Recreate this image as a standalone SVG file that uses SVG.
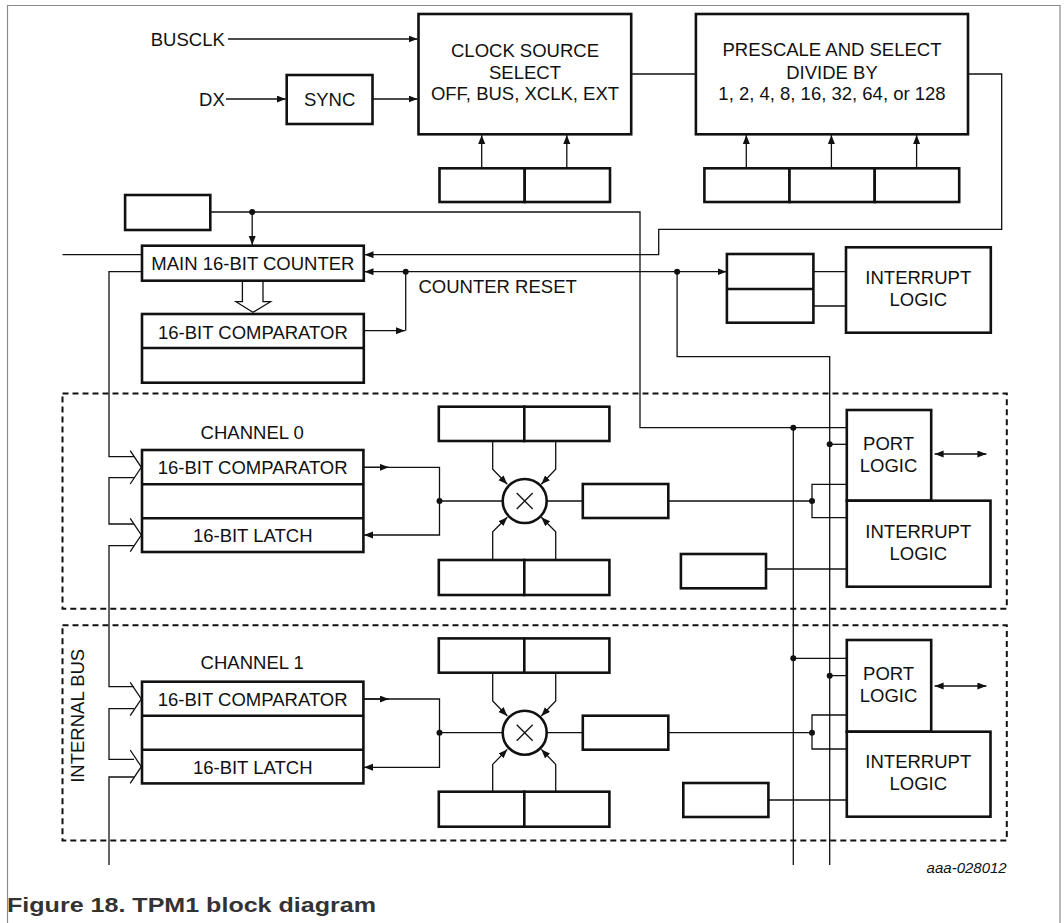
<svg xmlns="http://www.w3.org/2000/svg" width="1064" height="923" viewBox="0 0 1064 923">
<style>
.box{fill:#fff;stroke:#111;stroke-width:2.6}
.ln{fill:none;stroke:#111;stroke-width:1.3}
.arr{fill:none;stroke:#111;stroke-width:1.3;marker-end:url(#ah)}
.dash{fill:none;stroke:#111;stroke-width:2;stroke-dasharray:6 4}
.t{font-family:"Liberation Sans",Arial,sans-serif;font-size:18.5px;fill:#111}
.c{text-anchor:middle}
.e{text-anchor:end}
.dot{fill:#111}
</style>
<defs>
<marker id="ah" markerUnits="userSpaceOnUse" markerWidth="10" markerHeight="8" refX="9" refY="3.5" orient="auto-start-reverse">
<path d="M0,0 L9,3.5 L0,7 z" fill="#111"/>
</marker>
</defs>
<rect width="1064" height="923" fill="#fff"/>
<path d="M7.5,930 V5.5 H1060 V930" fill="none" stroke="#8a8a8a" stroke-width="1.2"/>

<g id="connectors">
<path class="arr" d="M228,39 H417.5"/>
<path class="arr" d="M226,99 H285.7"/>
<path class="arr" d="M372.5,99 H417.5"/>
<path class="ln" d="M631.2,74 H695.9"/>
<path class="arr" d="M481.7,168.3 V135"/>
<path class="arr" d="M566.8,168.3 V135"/>
<path class="arr" d="M746.3,168.3 V135"/>
<path class="arr" d="M831.4,168.3 V135"/>
<path class="arr" d="M916.6,168.3 V135"/>
<path class="arr" d="M968,74 H1001.7 V229.3 H658.7 V254.7 H364.5"/>
<path class="ln" d="M210.3,212 H640 V427.7 H846.8"/>
<path class="arr" d="M252.2,212 V245"/>
<path class="ln" d="M62.5,254.7 H142"/>
<path class="ln" d="M142,271.7 H109 V456.7 H134"/>
<path class="arr" d="M405.7,271.7 H364.5"/>
<path class="arr" d="M405.7,271.7 H726.5"/>
<path class="arr" d="M363.8,330.7 H405"/>
<path class="ln" d="M405.7,330.7 V271.7"/>
<path class="ln" d="M677.1,271.7 V356.7 H829.7 V865"/>
<path class="ln" d="M813.4,271.7 H846 M813.4,306 H846"/>
<path class="ln" d="M793.3,427.7 V865"/>
<path class="ln" d="M242.4,280.7 V301.7 H236 L252.9,312.3 L270.5,301.7 H263 V280.7"/>
<!-- channel 0 -->
<path class="ln" d="M829.7,444.3 H846.8"/>
<path class="arr" d="M363.4,467.3 H388.8"/>
<path class="arr" d="M363.4,467.3 H439.5 V535 H364"/>
<path class="ln" d="M439.5,501 H502.7"/>
<path class="arr" d="M492.7,441 V469.3 L507.3,484.3"/>
<path class="arr" d="M555.7,441 V469.3 L541.3,484.3"/>
<path class="arr" d="M492.7,560 V531.7 L507.3,517.3"/>
<path class="arr" d="M555.7,560 V531.7 L541.3,517.3"/>
<path class="ln" d="M546.7,501 H582.8 M668.3,501 H812"/>
<path class="ln" d="M846.8,484.3 H812 V517.7 H846.8"/>
<path class="ln" d="M766,569 H846.8"/>
<path class="arr" style="marker-start:url(#ah)" d="M934.6,454 H986.4"/>
<path class="ln" d="M134,477.7 H109 V524 H134"/>
<path class="ln" d="M134,545.7 H109 V686.7 H134"/>
<polyline class="ln" points="130.2,450.7 141.3,467.3 130.2,484"/>
<polyline class="ln" points="130.2,518.3 141.3,535 130.2,551.7"/>
<!-- channel 1 -->
<path class="ln" d="M793.3,658.3 H846.8 M829.7,675.7 H846.8"/>
<path class="arr" d="M363.4,699 H388.8"/>
<path class="arr" d="M363.4,699 H439.5 V767.3 H364"/>
<path class="ln" d="M439.5,732.7 H502.7"/>
<path class="arr" d="M492.7,672.7 V701 L507.3,716"/>
<path class="arr" d="M555.7,672.7 V701 L541.3,716"/>
<path class="arr" d="M492.7,791.7 V764.4 L507.3,749.4"/>
<path class="arr" d="M555.7,791.7 V764.4 L541.3,749.4"/>
<path class="ln" d="M546.7,732.7 H582.8 M668.3,732.7 H812"/>
<path class="ln" d="M846.8,715 H812 V749 H846.8"/>
<path class="ln" d="M768.4,800 H846.8"/>
<path class="arr" style="marker-start:url(#ah)" d="M934.6,686 H986.4"/>
<path class="ln" d="M134,708.7 H109 V759.3 H134"/>
<path class="ln" d="M134,777 H109 V865"/>
<polyline class="ln" points="130.2,682.3 141.3,699 130.2,715.7"/>
<polyline class="ln" points="130.2,750 141.3,766.7 130.2,783.4"/>
<!-- junction dots -->
<circle class="dot" cx="252.2" cy="212" r="3"/>
<circle class="dot" cx="405.7" cy="271.7" r="3"/>
<circle class="dot" cx="677.1" cy="271.7" r="3"/>
<circle class="dot" cx="793.3" cy="427.7" r="3"/>
<circle class="dot" cx="829.7" cy="444.3" r="3"/>
<circle class="dot" cx="439.5" cy="501" r="3"/>
<circle class="dot" cx="812" cy="501" r="3"/>
<circle class="dot" cx="793.3" cy="658.3" r="3"/>
<circle class="dot" cx="829.7" cy="675.7" r="3"/>
<circle class="dot" cx="439.5" cy="732.7" r="3"/>
<circle class="dot" cx="812" cy="732.7" r="3"/>
</g>

<g id="busclk"><text class="t e" x="224.8" y="45.5">BUSCLK</text></g>
<g id="dx"><text class="t e" x="224.8" y="105.5">DX</text></g>
<g id="sync"><rect class="box" x="286.7" y="75" width="85.8" height="49"/><text class="t c" x="329.6" y="106">SYNC</text></g>
<g id="clock-source">
<rect class="box" x="418.5" y="14" width="212.7" height="120.3"/>
<text class="t c" x="525" y="56.5">CLOCK SOURCE</text>
<text class="t c" x="525" y="78.5">SELECT</text>
<text class="t c" x="525" y="100.3">OFF, BUS, XCLK, EXT</text>
</g>
<g id="clksel-reg"><rect class="box" x="439.5" y="168.3" width="85.2" height="33.7"/><rect class="box" x="524.7" y="168.3" width="85.3" height="33.7"/></g>
<g id="prescale">
<rect class="box" x="695.9" y="14" width="272.1" height="120.3"/>
<text class="t c" x="832" y="56">PRESCALE AND SELECT</text>
<text class="t c" x="832" y="78.5">DIVIDE BY</text>
<text class="t c" x="832" y="100.3">1, 2, 4, 8, 16, 32, 64, or 128</text>
</g>
<g id="ps-reg"><rect class="box" x="704.4" y="168.3" width="85.1" height="33.7"/><rect class="box" x="789.5" y="168.3" width="85.2" height="33.7"/><rect class="box" x="874.7" y="168.3" width="84.5" height="33.7"/></g>
<g id="clr-reg"><rect class="box" x="125.1" y="195" width="85.2" height="35"/></g>
<g id="main-counter"><rect class="box" x="142" y="245.7" width="221.8" height="35"/><text class="t c" x="252.9" y="270">MAIN 16-BIT COUNTER</text></g>
<g id="modulo-comparator"><rect class="box" x="142" y="314" width="221.8" height="68.7"/><line class="box" x1="142" y1="348" x2="363.8" y2="348"/><text class="t c" x="252.9" y="339">16-BIT COMPARATOR</text></g>
<g id="counter-reset"><text class="t" x="418.5" y="293.3">COUNTER RESET</text></g>
<g id="tof-reg"><rect class="box" x="726.9" y="254" width="86.5" height="68.7"/><line class="box" x1="726.9" y1="289" x2="813.4" y2="289"/></g>
<g id="interrupt-logic-top"><rect class="box" x="846" y="247.3" width="144.8" height="85.4"/><text class="t c" x="918.3" y="284">INTERRUPT</text><text class="t c" x="918.3" y="306">LOGIC</text></g>

<g id="channel-0">
<rect class="dash" x="62.5" y="393.5" width="944.3" height="215.2"/>
<text class="t c" x="252.2" y="439">CHANNEL 0</text>
<g id="ch0-comparator-latch">
<rect class="box" x="142" y="450" width="221.4" height="102"/>
<line class="box" x1="142" y1="484.3" x2="363.4" y2="484.3"/>
<line class="box" x1="142" y1="518.3" x2="363.4" y2="518.3"/>
<text class="t c" x="252.7" y="474">16-BIT COMPARATOR</text>
<text class="t c" x="252.7" y="541.7">16-BIT LATCH</text>
</g>
<g id="ch0-reg-up"><rect class="box" x="438.8" y="406.7" width="85.5" height="34.3"/><rect class="box" x="524.3" y="406.7" width="85.1" height="34.3"/></g>
<g id="ch0-reg-down"><rect class="box" x="438.8" y="560" width="85.5" height="35"/><rect class="box" x="524.3" y="560" width="85.1" height="35"/></g>
<g id="ch0-mux"><circle class="box" cx="524.7" cy="501" r="22"/><path class="ln" d="M516.7,493 L532.7,509 M532.7,493 L516.7,509"/></g>
<g id="ch0-mid"><rect class="box" x="582.8" y="484" width="85.5" height="34"/></g>
<g id="ch0-ie"><rect class="box" x="680.9" y="554" width="85.1" height="34.3"/></g>
<g id="ch0-port"><rect class="box" x="846.8" y="410" width="84.4" height="90.7"/><text class="t c" x="888.6" y="450">PORT</text><text class="t c" x="888.6" y="471.7">LOGIC</text></g>
<g id="ch0-int"><rect class="box" x="846.8" y="500.7" width="143.7" height="86"/><text class="t c" x="918.3" y="538.3">INTERRUPT</text><text class="t c" x="918.3" y="560">LOGIC</text></g>
</g>

<g id="channel-1">
<rect class="dash" x="62.5" y="625.2" width="944.3" height="215.2"/>
<text class="t c" x="252.2" y="669.3">CHANNEL 1</text>
<g id="ch1-comparator-latch">
<rect class="box" x="142" y="681.7" width="221.4" height="101.7"/>
<line class="box" x1="142" y1="715.7" x2="363.4" y2="715.7"/>
<line class="box" x1="142" y1="749.7" x2="363.4" y2="749.7"/>
<text class="t c" x="252.7" y="705.7">16-BIT COMPARATOR</text>
<text class="t c" x="252.7" y="774.3">16-BIT LATCH</text>
</g>
<g id="ch1-reg-up"><rect class="box" x="438.8" y="638.4" width="85.5" height="34.3"/><rect class="box" x="524.3" y="638.4" width="85.1" height="34.3"/></g>
<g id="ch1-reg-down"><rect class="box" x="438.8" y="791.7" width="85.5" height="35"/><rect class="box" x="524.3" y="791.7" width="85.1" height="35"/></g>
<g id="ch1-mux"><circle class="box" cx="524.7" cy="732.7" r="22"/><path class="ln" d="M516.7,724.7 L532.7,740.7 M532.7,724.7 L516.7,740.7"/></g>
<g id="ch1-mid"><rect class="box" x="582.8" y="715.7" width="85.5" height="34"/></g>
<g id="ch1-ie"><rect class="box" x="683.3" y="783" width="85.1" height="34"/></g>
<g id="ch1-port"><rect class="box" x="846.8" y="640" width="84.4" height="91.7"/><text class="t c" x="888.6" y="680">PORT</text><text class="t c" x="888.6" y="701.7">LOGIC</text></g>
<g id="ch1-int"><rect class="box" x="846.8" y="731.7" width="143.7" height="85"/><text class="t c" x="918.3" y="768.3">INTERRUPT</text><text class="t c" x="918.3" y="790">LOGIC</text></g>
</g>

<g id="internal-bus"><text class="t c" transform="translate(84,715.8) rotate(-90)">INTERNAL BUS</text></g>
<g id="figure-id"><text x="1006.7" y="873.3" text-anchor="end" font-family="Liberation Sans, Arial, sans-serif" font-size="15" font-style="italic" fill="#111">aaa-028012</text></g>
<g id="caption"><text x="7" y="911.7" font-family="Liberation Sans, Arial, sans-serif" font-size="21" font-weight="bold" fill="#333" textLength="369" lengthAdjust="spacingAndGlyphs">Figure 18.  TPM1 block diagram</text></g>
</svg>
